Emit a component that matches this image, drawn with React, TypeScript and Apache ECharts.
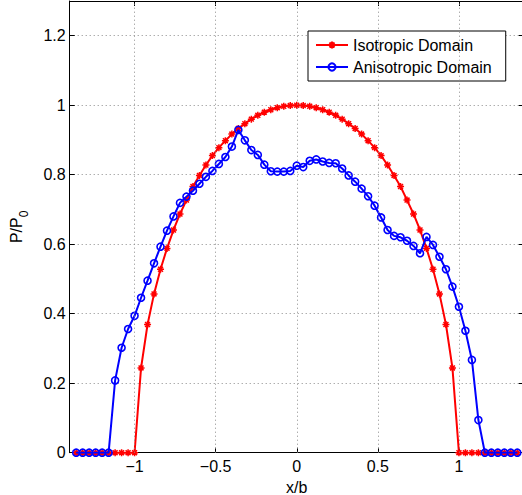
import React, { useEffect, useRef } from "react";
import * as echarts from "echarts";

const xValues = [
  -1.36, -1.32, -1.28, -1.24, -1.2, -1.16, -1.12, -1.08, -1.04, -1.0,
  -0.96, -0.92, -0.88, -0.84, -0.8, -0.76, -0.72, -0.68, -0.64, -0.6,
  -0.56, -0.52, -0.48, -0.44, -0.4, -0.36, -0.32, -0.28, -0.24, -0.2,
  -0.16, -0.12, -0.08, -0.04, 0, 0.04, 0.08, 0.12, 0.16, 0.2,
  0.24, 0.28, 0.32, 0.36, 0.4, 0.44, 0.48, 0.52, 0.56, 0.6,
  0.64, 0.68, 0.72, 0.76, 0.8, 0.84, 0.88, 0.92, 0.96, 1.0,
  1.04, 1.08, 1.12, 1.16, 1.2, 1.24, 1.28, 1.32, 1.36,
];

const isotropic = [
  0, 0, 0, 0, 0, 0, 0, 0, 0, 0,
  0.244, 0.369, 0.457, 0.528, 0.588, 0.641, 0.687, 0.727, 0.766, 0.798,
  0.828, 0.855, 0.878, 0.898, 0.917, 0.933, 0.947, 0.96, 0.971, 0.98,
  0.987, 0.993, 0.997, 0.999, 1.0, 0.999, 0.997, 0.993, 0.987, 0.98,
  0.971, 0.96, 0.947, 0.933, 0.917, 0.898, 0.878, 0.855, 0.828, 0.798,
  0.766, 0.727, 0.687, 0.641, 0.588, 0.528, 0.457, 0.369, 0.244, 0,
  0, 0, 0, 0, 0, 0, 0, 0, 0,
];

const anisotropic = [
  0, 0, 0, 0, 0, 0, 0.208, 0.302, 0.356, 0.394,
  0.446, 0.495, 0.545, 0.593, 0.639, 0.68, 0.719, 0.737, 0.754, 0.774,
  0.794, 0.811, 0.831, 0.851, 0.881, 0.929, 0.899, 0.871, 0.857, 0.829,
  0.81, 0.809, 0.809, 0.811, 0.826, 0.822, 0.84, 0.844, 0.838, 0.834,
  0.833, 0.818, 0.798, 0.78, 0.76, 0.738, 0.711, 0.677, 0.641, 0.624,
  0.62, 0.61, 0.595, 0.574, 0.621, 0.598, 0.564, 0.528, 0.478, 0.42,
  0.351, 0.267, 0.094, 0, 0, 0, 0, 0, 0,
];

const xTicks = [-1, -0.5, 0, 0.5, 1];
const seriesNames = ["Isotropic Domain", "Anisotropic Domain"];

const FONT = "Liberation Sans, Arial, sans-serif";
const asterisk = "path://M5,0L5,10M0,5L10,5M1.5,1.5L8.5,8.5M1.5,8.5L8.5,1.5";

export default function App() {
  const ref = useRef<HTMLDivElement>(null);
  useEffect(() => {
    if (!ref.current) return;
    const chart = echarts.init(ref.current, undefined, { renderer: "svg" });
    const fmt = (v: number) => String(v).replace("-", "\u2212");
    const gridDot = { color: "#8a8a8a", type: [1, 3] as any, width: 1 };
    chart.setOption({
      animation: false,
      backgroundColor: "#fff",
      grid: {
        left: 69.7,
        right: -1.8,
        top: 1,
        bottom: 42.3,
        containLabel: false,
        outerBoundsMode: "none",
      },
      legend: {
        left: 308,
        top: 31,
        orient: "vertical",
        backgroundColor: "#fff",
        borderColor: "#000",
        borderWidth: 1,
        borderRadius: 0,
        padding: [6, 14, 6, 7],
        itemWidth: 32,
        itemHeight: 9,
        itemGap: 6,
        textStyle: { fontSize: 16, color: "#000", fontFamily: FONT },
        data: seriesNames,
      },
      xAxis: [
        {
          type: "value",
          min: -1.4,
          max: 1.4,
          position: "bottom",
          name: "x/b",
          nameLocation: "middle",
          nameGap: 21,
          nameTextStyle: { fontSize: 16, color: "#000", fontFamily: FONT },
          axisLine: { show: true, onZero: false, lineStyle: { color: "#000", width: 1 } },
          axisTick: { show: true, inside: true, length: 5, customValues: xTicks, lineStyle: { color: "#000" } },
          axisLabel: {
            customValues: xTicks,
            formatter: fmt,
            fontSize: 16,
            color: "#000",
            fontFamily: FONT,
            margin: 6,
          },
          splitLine: { show: false },
        },
        {
          type: "value",
          min: -1.4,
          max: 1.4,
          position: "top",
          axisLine: { show: true, onZero: false, lineStyle: { color: "#000", width: 1 } },
          axisTick: { show: true, inside: true, length: 5, customValues: xTicks, lineStyle: { color: "#000" } },
          axisLabel: { show: false },
          splitLine: { show: false },
        },
      ],
      yAxis: [
        {
          type: "value",
          min: 0,
          max: 1.3,
          interval: 0.2,
          position: "left",
          name: "{a|P/P}{b|0}",
          nameLocation: "middle",
          nameGap: 40,
          nameTextStyle: {
            color: "#000",
            fontFamily: FONT,
            rich: {
              a: { fontSize: 16, fontFamily: FONT, color: "#000", lineHeight: 22 },
              b: { fontSize: 12, fontFamily: FONT, color: "#000", padding: [15, 0, 0, 0] },
            },
          },
          axisLine: { show: true, onZero: false, lineStyle: { color: "#000", width: 1 } },
          axisTick: { show: true, inside: true, length: 5, lineStyle: { color: "#000" } },
          axisLabel: {
            fontSize: 16,
            color: "#000",
            fontFamily: FONT,
            margin: 4,
            showMaxLabel: false,
          },
          splitLine: { show: true, lineStyle: gridDot },
        },
        {
          type: "value",
          min: 0,
          max: 1.3,
          interval: 0.2,
          position: "right",
          axisLine: { show: true, onZero: false, lineStyle: { color: "#000", width: 1 } },
          axisTick: { show: true, inside: true, length: 5, lineStyle: { color: "#000" } },
          axisLabel: { show: false },
          splitLine: { show: false },
        },
      ],
      series: [
        {
          name: seriesNames[0],
          type: "line",
          xAxisIndex: 0,
          yAxisIndex: 0,
          data: xValues.map((x, i) => [x, isotropic[i]]),
          color: "#ff0000",
          lineStyle: { color: "#ff0000", width: 2 },
          symbol: asterisk,
          symbolSize: 7,
          showSymbol: true,
          itemStyle: { color: "#ff0000", borderColor: "#ff0000", borderWidth: 1.5 },
          z: 2,
          markLine: {
            silent: true,
            symbol: ["none", "none"],
            label: { show: false },
            lineStyle: gridDot,
            emphasis: { disabled: true },
            data: xTicks.map((v) => ({ xAxis: v })),
          },
        },
        {
          name: seriesNames[1],
          type: "line",
          xAxisIndex: 0,
          yAxisIndex: 0,
          data: xValues.map((x, i) => [x, anisotropic[i]]),
          color: "#0000ff",
          lineStyle: { color: "#0000ff", width: 2 },
          symbol: "circle",
          symbolSize: 7,
          showSymbol: true,
          itemStyle: { color: "rgba(0,0,0,0)", borderColor: "#0000ff", borderWidth: 1.6 },
          z: 3,
        },
      ],
    });
    return () => chart.dispose();
  }, []);
  return (
    <div
      ref={ref}
      style={{ position: "fixed", left: 0, top: 0, width: 522, height: 495, background: "#fff" }}
    />
  );
}
